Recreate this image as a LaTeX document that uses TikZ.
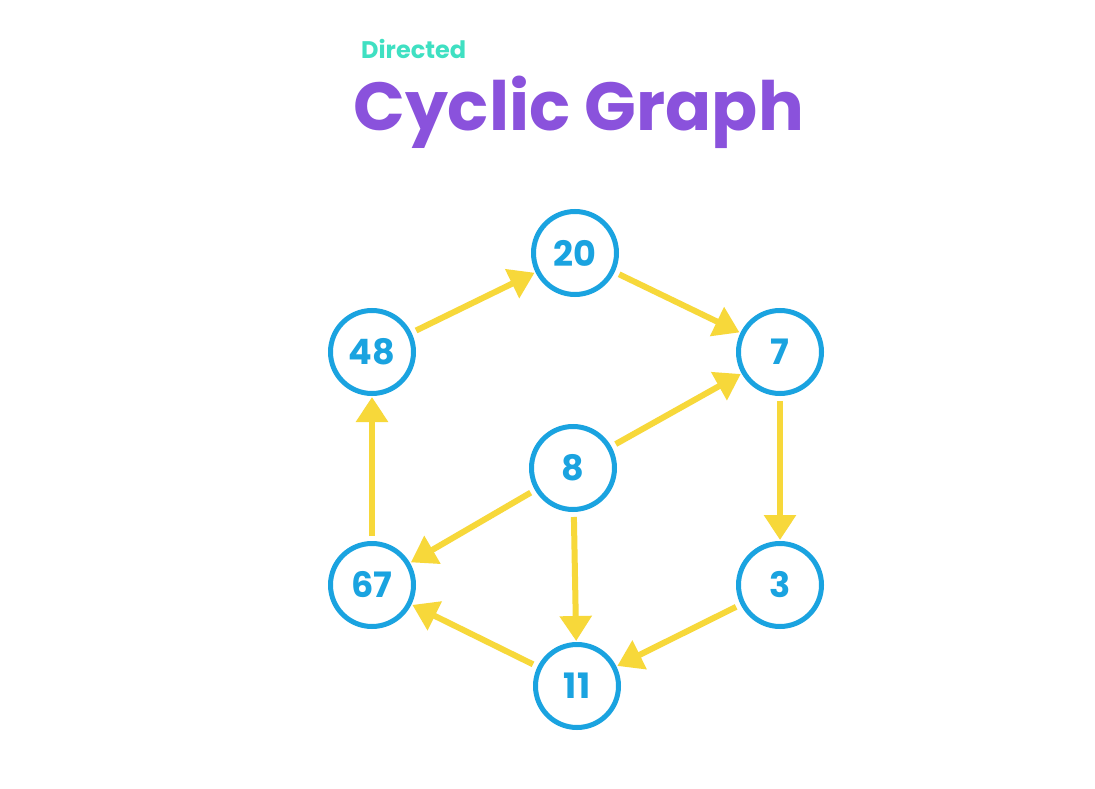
\documentclass[tikz,border=0pt]{standalone}
\usepackage{fontspec}
\setmainfont{Poppins}
\usetikzlibrary{arrows.meta}
\definecolor{nodeblue}{HTML}{1AA3E0}
\definecolor{edgeyellow}{HTML}{F7D83A}
\definecolor{titlepurple}{HTML}{8A52DC}
\definecolor{subteal}{HTML}{3FE0C2}
\tikzset{
  vert/.style={circle, draw=nodeblue, line width=5pt, minimum size=83pt, inner sep=0pt, text=nodeblue, font=\fontsize{35}{35}\selectfont\bfseries},
  edge/.style={draw=edgeyellow, line width=6pt, -{Triangle[length=25pt,width=31pt]}, shorten <=5pt, shorten >=1pt}
}
\begin{document}
\begin{tikzpicture}[x=1pt,y=-1pt]
\fill[white] (0,0) rectangle (1095,789);
\useasboundingbox (0,0) rectangle (1095,789);
\node[anchor=base west, text=subteal, font=\fontsize{24}{24}\selectfont\bfseries, inner sep=0pt] (sub) at (361,59) {Directed};
\node[anchor=base west, text=titlepurple, font=\fontsize{68}{68}\selectfont\bfseries, inner sep=0pt] (title) at (353,131) {Cyclic Graph};
\node[vert] (n20) at (575,253) {20};
\node[vert] (n48) at (372,352) {48};
\node[vert] (n7) at (780,352) {7};
\node[vert] (n8) at (573,468) {8};
\node[vert] (n67) at (372,585) {67};
\node[vert] (n3) at (780,585) {3};
\node[vert] (n11) at (577,686) {11};
\draw[edge] (n48) -- (n20);
\draw[edge] (n20) -- (n7);
\draw[edge] (n8) -- (n7);
\draw[edge] (n7) -- (n3);
\draw[edge] (n8) -- (n67);
\draw[edge] (n8) -- (n11);
\draw[edge] (n3) -- (n11);
\draw[edge] (n11) -- (n67);
\draw[edge] (n67) -- (n48);
\end{tikzpicture}
\end{document}
